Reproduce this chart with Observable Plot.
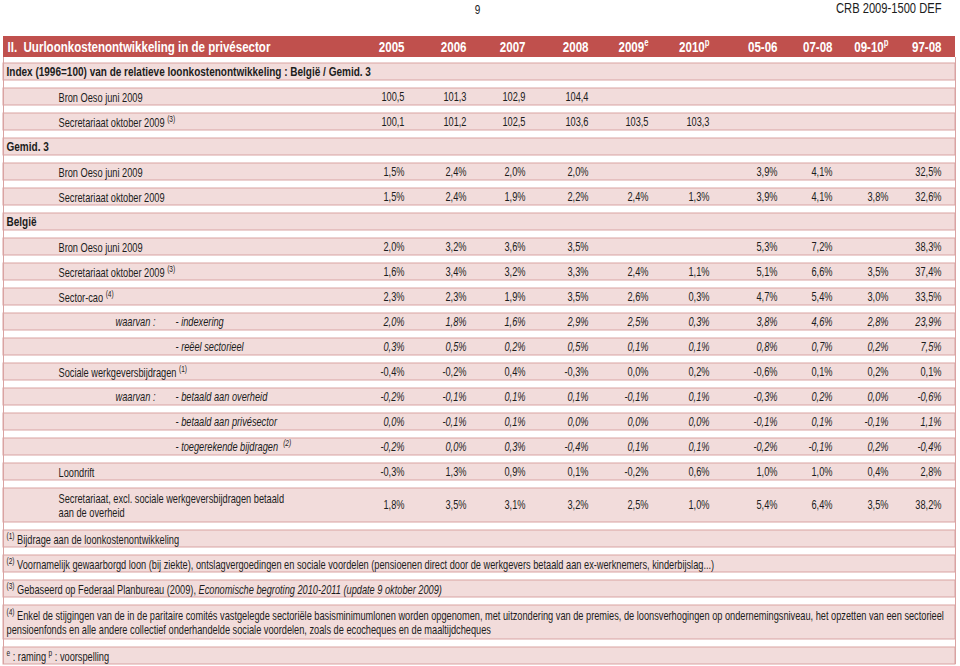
<!DOCTYPE html>
<html><head><meta charset="utf-8">
<script src="https://cdn.jsdelivr.net/npm/d3@7"></script>
<script src="https://cdn.jsdelivr.net/npm/@observablehq/plot@0.6"></script>
<style>
html,body{margin:0;padding:0;background:#fff;}
</style></head><body><div id="chart"></div>
<script>
// ---------- data ----------
const columns = ["2005","2006","2007","2008","2009ᵉ","2010ᵖ","05-06","07-08","09-10ᵖ","97-08"];

const indexBronOeso     = [100.5, 101.3, 102.9, 104.4, null, null, null, null, null, null];
const indexSecretariaat = [100.1, 101.2, 102.5, 103.6, 103.5, 103.3, null, null, null, null];
const gemBronOeso       = [1.5, 2.4, 2.0, 2.0, null, null, 3.9, 4.1, null, 32.5];
const gemSecretariaat   = [1.5, 2.4, 1.9, 2.2, 2.4, 1.3, 3.9, 4.1, 3.8, 32.6];
const beBronOeso        = [2.0, 3.2, 3.6, 3.5, null, null, 5.3, 7.2, null, 38.3];
const beSecretariaat    = [1.6, 3.4, 3.2, 3.3, 2.4, 1.1, 5.1, 6.6, 3.5, 37.4];
const beSectorCao       = [2.3, 2.3, 1.9, 3.5, 2.6, 0.3, 4.7, 5.4, 3.0, 33.5];
const beIndexering      = [2.0, 1.8, 1.6, 2.9, 2.5, 0.3, 3.8, 4.6, 2.8, 23.9];
const beReeel           = [0.3, 0.5, 0.2, 0.5, 0.1, 0.1, 0.8, 0.7, 0.2, 7.5];
const beSociale         = [-0.4, -0.2, 0.4, -0.3, 0.0, 0.2, -0.6, 0.1, 0.2, 0.1];
const beOverheid        = [-0.2, -0.1, 0.1, 0.1, -0.1, 0.1, -0.3, 0.2, 0.0, -0.6];
const bePrive           = [0.0, -0.1, 0.1, 0.0, 0.0, 0.0, -0.1, 0.1, -0.1, 1.1];
const beToegerekend     = [-0.2, 0.0, 0.3, -0.4, 0.1, 0.1, -0.2, -0.1, 0.2, -0.4];
const beLoondrift       = [-0.3, 1.3, 0.9, 0.1, -0.2, 0.6, 1.0, 1.0, 0.4, 2.8];
const beExclOverheid    = [1.8, 3.5, 3.1, 3.2, 2.5, 1.0, 5.4, 6.4, 3.5, 38.2];

const pageNumber = "9";
const docRef = "CRB 2009-1500 DEF";
const headerTitle = "II.\u00a0\u00a0Uurloonkostenontwikkeling in de privésector";

const rows = [
  {kind: "section", label: "Index (1996=100) van de relatieve loonkostenontwikkeling : België / Gemid. 3"},
  {kind: "item", label: "Bron Oeso juni 2009", values: indexBronOeso, unit: ""},
  {kind: "item", label: "Secretariaat oktober 2009 ⁽³⁾", values: indexSecretariaat, unit: ""},
  {kind: "section", label: "Gemid. 3"},
  {kind: "item", label: "Bron Oeso juni 2009", values: gemBronOeso, unit: "%"},
  {kind: "item", label: "Secretariaat oktober 2009", values: gemSecretariaat, unit: "%"},
  {kind: "section", label: "België"},
  {kind: "item", label: "Bron Oeso juni 2009", values: beBronOeso, unit: "%"},
  {kind: "item", label: "Secretariaat oktober 2009 ⁽³⁾", values: beSecretariaat, unit: "%"},
  {kind: "item", label: "Sector-cao ⁽⁴⁾", values: beSectorCao, unit: "%"},
  {kind: "sub", prefix: "waarvan :", label: "- indexering", values: beIndexering, unit: "%"},
  {kind: "sub", label: "- reëel sectorieel", values: beReeel, unit: "%"},
  {kind: "item", label: "Sociale werkgeversbijdragen ⁽¹⁾", values: beSociale, unit: "%"},
  {kind: "sub", prefix: "waarvan :", label: "- betaald aan overheid", values: beOverheid, unit: "%"},
  {kind: "sub", label: "- betaald aan privésector", values: bePrive, unit: "%"},
  {kind: "sub", label: "- toegerekende bijdragen\u00a0 ⁽²⁾", values: beToegerekend, unit: "%"},
  {kind: "item", label: "Loondrift", values: beLoondrift, unit: "%"},
  {kind: "item", label: "Secretariaat, excl. sociale werkgeversbijdragen betaald\naan de overheid", values: beExclOverheid, unit: "%", lines: 2},
  {kind: "note", label: "⁽¹⁾ Bijdrage aan de loonkostenontwikkeling"},
  {kind: "note", label: "⁽²⁾ Voornamelijk gewaarborgd loon (bij ziekte), ontslagvergoedingen en sociale voordelen (pensioenen direct door de werkgevers betaald aan ex-werknemers, kinderbijslag...)"},
  {kind: "note", label: "⁽³⁾ Gebaseerd op Federaal Planbureau (2009), Economische begroting 2010-2011 (update 9 oktober 2009)", italicFrom: "Economische"},
  {kind: "note", label: "⁽⁴⁾ Enkel de stijgingen van de in de paritaire comités vastgelegde sectoriële basisminimumlonen worden opgenomen, met uitzondering van de premies, de loonsverhogingen op ondernemingsniveau, het opzetten van een sectorieel\npensioenfonds en alle andere collectief onderhandelde sociale voordelen, zoals de ecocheques en de maaltijdcheques", lines: 2},
  {kind: "note", label: "ᵉ : raming ᵖ : voorspelling"}
];

// ---------- layout (row slots, column anchors) ----------
const A = {edgeL: -5, lvl0: -4, lvl1: -3, waarvan: -2, sub: -1, edgeR: 10};
let s = 0, prevHalf = 0.5;
const laid = rows.map(r => {
  const span = r.lines === 2 ? 1.68 : 1;
  s += prevHalf + span / 2; prevHalf = span / 2;
  return {...r, slot: s, half: (span - 0.32) / 2};
});
const lastBottom = laid[laid.length - 1].slot + laid[laid.length - 1].half;

const fmt = (v, unit) => v.toFixed(1).replace(".", ",") + unit;
const italicRow = r => r.kind === "sub";
const cells = laid.filter(r => r.values).flatMap(r =>
  r.values.map((v, i) => ({col: i, slot: r.slot, text: v == null ? null : fmt(v, r.unit), italic: italicRow(r)}))
).filter(d => d.text != null);
const headerCells = columns.map((c, i) => ({col: i, text: c}));

const FONT = "'Liberation Sans',Arial,Helvetica,sans-serif";
const NARROW = 0.77; // horizontal compression to mimic Helvetica Narrow
const RED = "#c0504d", PINK = "#f2dcdb", LINE = "#d9a3a2", INK = "#1c1c1c";
const FS = 12;

const chart = Plot.plot({
  width: 960, height: 666,
  margin: 0,
  style: {fontFamily: FONT, background: "#fff"},
  x: {type: "linear", domain: [-5, -4, -3, -2, -1, 0, 1, 2, 3, 4, 5, 6, 7, 8, 9, 10],
      range: [3, 6, 58, 115, 175, 404, 466, 525, 588, 648, 709, 777, 832, 888, 941, 955], axis: null},
  y: {type: "linear", domain: [0, 24], range: [46.5, 646.5], axis: null},
  marks: [
    // page header
    Plot.text([pageNumber], {frameAnchor: "top", dy: 4, lineAnchor: "top", fontSize: 13, fill: INK, dx: -3}),
    Plot.text([docRef], {x: 9, y: -1.55, textAnchor: "end", fontSize: 14.5, fill: INK}),
    // row bands
    Plot.rect(laid, {x1: A.edgeL, x2: A.edgeR, y1: d => d.slot - d.half, y2: d => d.slot + d.half, fill: PINK, stroke: LINE, strokeWidth: 1}),
    Plot.ruleX([A.edgeL, A.edgeR], {y1: 0.42, y2: lastBottom, stroke: LINE}),
    // header bar
    Plot.rect([headerTitle], {x1: A.edgeL, x2: A.edgeR, y1: -0.42, y2: 0.42, fill: RED}),
    Plot.text([headerTitle], {x: A.lvl0 , y: 0, dx: 1, textAnchor: "start", fill: "#fff", fontWeight: "bold", fontSize: 15}),
    Plot.text(headerCells, {x: "col", y: 0, text: "text", textAnchor: "end", fill: "#fff", fontWeight: "bold", fontSize: 15}),
    // labels
    Plot.text(laid.filter(d => d.kind === "section"), {x: A.lvl0, y: "slot", text: "label", textAnchor: "start", fontWeight: "bold", fontSize: 13, fill: INK}),
    Plot.text(laid.filter(d => d.kind === "item"), {x: A.lvl1, y: "slot", text: "label", textAnchor: "start", fontSize: FS, lineHeight: 1.2, fill: INK}),
    Plot.text(laid.filter(d => d.prefix), {x: A.waarvan, y: "slot", text: "prefix", textAnchor: "start", fontStyle: "italic", fontSize: FS, fill: INK}),
    Plot.text(laid.filter(d => d.kind === "sub"), {x: A.sub, y: "slot", text: "label", textAnchor: "start", fontStyle: "italic", fontSize: FS, fill: INK}),
    Plot.text(laid.filter(d => d.kind === "note"), {x: A.lvl0, y: "slot", text: "label", textAnchor: "start", fontSize: FS, lineHeight: 1.2, fill: INK}),
    // values
    Plot.text(cells.filter(d => !d.italic), {x: "col", y: "slot", text: "text", textAnchor: "end", fontSize: FS, fill: INK}),
    Plot.text(cells.filter(d => d.italic), {x: "col", y: "slot", text: "text", textAnchor: "end", fontStyle: "italic", fontSize: FS, fill: INK})
  ]
});

const NS = "http://www.w3.org/2000/svg";
const tspan = (txt) => { const t = document.createElementNS(NS, "tspan"); t.textContent = txt; return t; };

// italic part of footnote (3): split the real text into two tspans
for (const t of chart.querySelectorAll("text")) {
  const r = rows.find(r => r.italicFrom && t.textContent === r.label);
  if (!r) continue;
  const k = r.label.indexOf(r.italicFrom);
  t.textContent = "";
  const b = tspan(r.label.slice(k));
  b.setAttribute("font-style", "italic");
  t.append(tspan(r.label.slice(0, k)), b);
}

// superscript markers -> small raised tspans with plain characters
const SUP = {"⁽": "(", "⁾": ")", "¹": "1", "²": "2", "³": "3", "⁴": "4", "ᵉ": "e", "ᵖ": "p"};
const supRe = /[⁽⁾¹²³⁴ᵉᵖ]+/g;
const walker = document.createTreeWalker(chart, NodeFilter.SHOW_TEXT);
const textNodes = [];
while (walker.nextNode()) textNodes.push(walker.currentNode);
for (const node of textNodes) {
  const str = node.nodeValue;
  if (!/[⁽⁾¹²³⁴ᵉᵖ]/.test(str) || node.parentNode.nodeName === "style") continue;
  const frag = document.createDocumentFragment();
  let last = 0, raised = false, m;
  supRe.lastIndex = 0;
  while ((m = supRe.exec(str))) {
    if (m.index > last) {
      const seg = tspan(str.slice(last, m.index));
      if (raised) seg.setAttribute("dy", "4.5");
      frag.append(seg); raised = false;
    }
    const sup = tspan([...m[0]].map(c => SUP[c]).join(""));
    const big = node.parentNode.closest("g") && node.parentNode.closest("g").getAttribute("font-size") == "15";
    sup.setAttribute("font-size", big ? "10" : "8.5");
    sup.setAttribute("dy", big ? "-5.5" : "-4.5");
    frag.append(sup); raised = true;
    last = m.index + m[0].length;
  }
  if (last < str.length) {
    const seg = tspan(str.slice(last));
    if (raised) seg.setAttribute("dy", "4.5");
    frag.append(seg);
  }
  node.replaceWith(frag);
}

// narrow the type around each text's own anchor point
for (const t of chart.querySelectorAll("text")) {
  const tr = t.getAttribute("transform");
  if (tr) t.setAttribute("transform", tr + ` scale(${NARROW},1)`);
  else {
    const x = +t.getAttribute("x") || 0;
    t.setAttribute("transform", `translate(${x},0) scale(${NARROW},1) translate(${-x},0)`);
  }
}
document.getElementById("chart").append(chart);
</script>
</body></html>
